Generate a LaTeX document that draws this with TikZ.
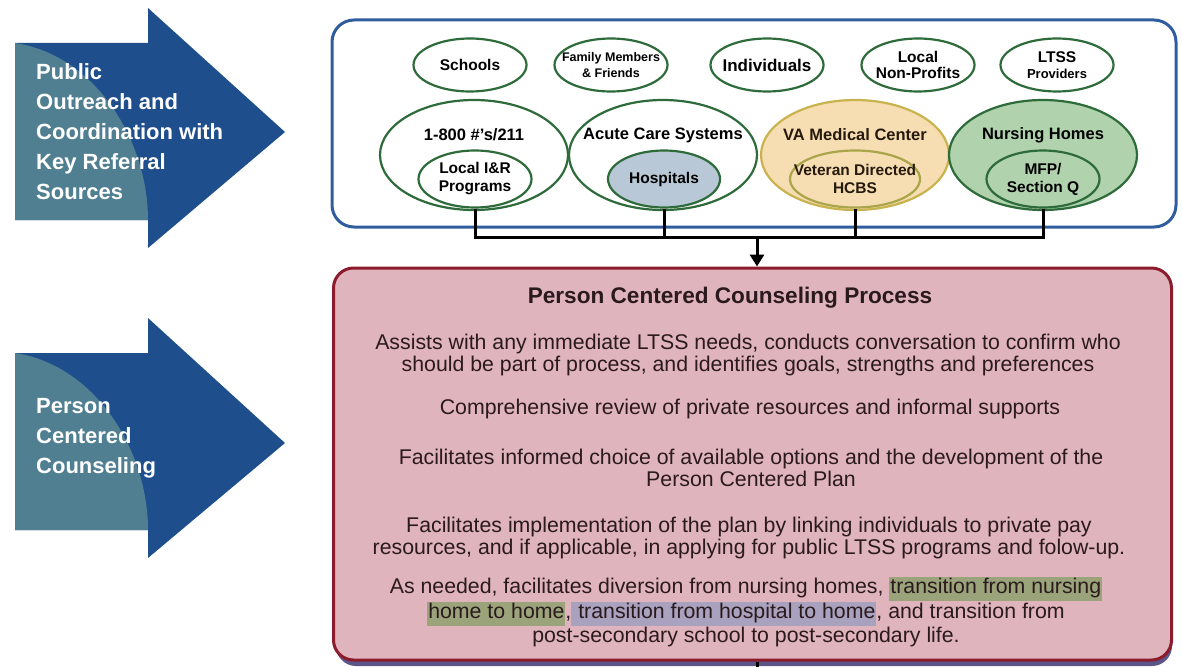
\documentclass[tikz,border=0pt]{standalone}
\usepackage{fontspec}
\setmainfont{Liberation Sans}
\usetikzlibrary{shapes.geometric,arrows.meta}

\definecolor{arrowblue}{HTML}{1F4E8C}
\definecolor{arrowteal}{HTML}{4F7F90}
\definecolor{boxblue}{HTML}{2F5D9E}
\definecolor{ringgreen}{HTML}{2E6B3A}
\definecolor{hospfill}{HTML}{B8C8D6}
\definecolor{vafill}{HTML}{F6DDB2}
\definecolor{varing}{HTML}{C9B34E}
\definecolor{nursefill}{HTML}{B0D3AD}
\definecolor{procfill}{HTML}{DFB4BC}
\definecolor{procline}{HTML}{8C1B2C}
\definecolor{procshade}{HTML}{5B5588}
\definecolor{proctext}{HTML}{2B1A1D}
\definecolor{markgreen}{HTML}{9AA37A}
\definecolor{markpurple}{HTML}{A9A2BE}

\newcommand{\hlgreen}[1]{{\setlength{\fboxsep}{1pt}\colorbox{markgreen}{\strut #1}}}
\newcommand{\hlpurple}[1]{{\setlength{\fboxsep}{1pt}\colorbox{markpurple}{\strut #1}}}

\begin{document}
\begin{tikzpicture}[x=1pt,y=-1pt,
	src/.style={ellipse, draw=ringgreen, line width=2.2pt, minimum width=113pt, minimum height=53pt, inner xsep=-25pt, inner ysep=0pt, align=center, font=\bfseries\fontsize{15.5}{16}\selectfont},
	big/.style={ellipse, draw=ringgreen, line width=2.2pt, minimum width=188pt, minimum height=110pt, inner sep=0pt},
	inring/.style={src, minimum height=57pt, font=\bfseries\fontsize{15.5}{18}\selectfont},
	lbl/.style={inner sep=0pt, font=\bfseries\fontsize{16.5}{18}\selectfont},
	conn/.style={line width=3pt, black},
	para/.style={align=center, inner sep=0pt, text=proctext, font=\fontsize{21.3}{22.3}\selectfont},
	side/.style={align=left, anchor=north west, inner sep=0pt, text=white, font=\bfseries\fontsize{22}{30}\selectfont}]
	\useasboundingbox (0,0) rectangle (1182,666);

	% left arrows
	\fill[arrowblue] (15,43) -- (148,43) -- (148,8) -- (285,132) -- (148,248) -- (148,220) -- (15,220) -- cycle;
	\fill[arrowteal] (15,43) .. controls (95,55) and (148,140) .. (148,220) -- (15,220) -- cycle;
	\node[side] (outreach) at (36,63) {Public\\Outreach and\\Coordination with\\Key Referral\\Sources};

	\fill[arrowblue] (15,353) -- (148,353) -- (148,318) -- (285,443) -- (148,558) -- (148,530) -- (15,530) -- cycle;
	\fill[arrowteal] (15,353) .. controls (95,365) and (148,450) .. (148,530) -- (15,530) -- cycle;
	\node[side] (counsel) at (36,398) {Person\\Centered\\Counseling};

	% referral sources
	\node[draw=boxblue, line width=3pt, rounded corners=22pt, minimum width=844pt, minimum height=207pt] (sources) at (754,123.5) {};

	\node[src] (schools) at (470,65) {Schools};
	\node[src, font=\bfseries\fontsize{12.5}{16}\selectfont] (family) at (611,65) {Family Members\\\& Friends};
	\node[src, font=\bfseries\fontsize{17}{18}\selectfont] (people) at (767,65) {Individuals};
	\node[src] (nonprofit) at (918,65) {Local\\Non-Profits};
	\node[src] (ltss) at (1057,65) {LTSS\\{\fontsize{13}{14}\selectfont Providers}};

	\node[big] (hotline) at (474,155) {};
	\node[big] (acute) at (663,155) {};
	\node[big, draw=varing, fill=vafill] (va) at (855,155) {};
	\node[big, fill=nursefill] (nursing) at (1043,155) {};

	\node[lbl] at ([yshift=20pt]hotline.center) {1-800 \#'s/211};
	\node[lbl] at ([yshift=20pt]acute.center) {Acute Care Systems};
	\node[lbl, text=black!80!brown] at ([yshift=20pt]va.center) {VA Medical Center};
	\node[lbl] at ([yshift=20pt]nursing.center) {Nursing Homes};

	\node[inring] (lir) at (475,179) {Local I\&R\\Programs};
	\node[inring, fill=hospfill, minimum width=112pt] (hosp) at (664,179) {Hospitals};
	\node[inring, draw=varing!80!ringgreen, minimum width=130pt, text=black!80!brown] (vet) at (855,179) {Veteran Directed\\HCBS};
	\node[inring] (mfp) at (1043,179) {MFP/\\Section Q};

	% process box
	\fill[procshade, rounded corners=20pt] (336,276) rectangle (1172,666);
	\node[draw=procline, fill=procfill, line width=3pt, rounded corners=20pt, minimum width=838pt, minimum height=392pt] (process) at (752.5,464) {};

	\coordinate (join) at (757,237);
	\draw[conn] (lir.south) |- (join);
	\draw[conn] (hosp.south) |- (join);
	\draw[conn] (vet.south) |- (join);
	\draw[conn] (mfp.south) |- (join);
	\draw[conn, -{Triangle[width=14pt,length=12pt]}] (join) -- (join |- process.north);
	\coordinate (stub) at (757,672);
	\draw[conn] (stub |- process.south) -- (stub);

	\node[para, font=\bfseries\fontsize{22.6}{24}\selectfont] (title) at (730,298) {Person Centered Counseling Process};
	\node[para] (assist) at (748,355) {Assists with any immediate LTSS needs, conducts conversation to confirm who\\should be part of process, and identifies goals, strengths and preferences};
	\node[para] (review) at (750,409) {Comprehensive review of private resources and informal supports};
	\node[para] (choice) at (751,468) {Facilitates informed choice of available options and the development of the\\Person Centered Plan};
	\node[para] (linking) at (749,538) {Facilitates implementation of the plan by linking individuals to private pay\\resources, and if applicable, in applying for public LTSS programs and folow-up.};
	\node[para] (diversion) at (746,612) {As needed, facilitates diversion from nursing homes, \hlgreen{transition from nursing}\\\hlgreen{home to home},\hlpurple{ transition from hospital to home}, and transition from\\post-secondary school to post-secondary life.};
\end{tikzpicture}
\end{document}
